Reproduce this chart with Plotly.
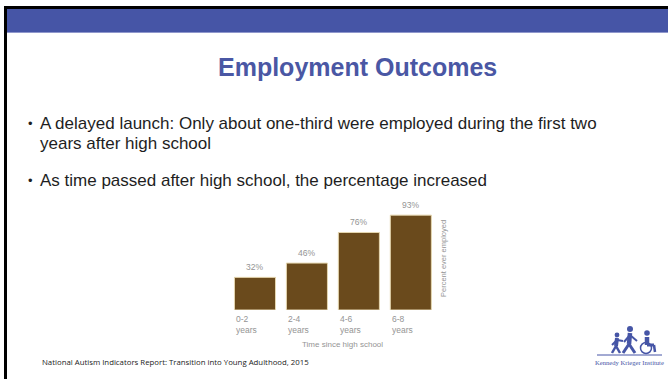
import plotly.graph_objects as go

W, H = 668, 379

# chart data
periods = ["0-2", "2-4", "4-6", "6-8"]
employed_pct = [32, 46, 76, 93]
value_labels = ["32%", "46%", "76%", "93%"]

title_text = "Employment Outcomes"
bullets = [
    "A delayed launch: Only about one-third were employed during the first two",
    "years after high school",
    "As time passed after high school, the percentage increased",
]
source_text = "National Autism Indicators Report: Transition into Young Adulthood, 2015"

BLUE = "#4655A6"
BAR = "#6A4A1C"
GREY = "#949494"
SANS = "Liberation Sans, Arial"


def px(x):
    return x / W


def py(y):
    return 1 - y / H


def note(x, y, text, size, color, family=SANS, xanchor="center", **kw):
    return dict(x=px(x), y=py(y), xref="paper", yref="paper", text=text,
                showarrow=False, xanchor=xanchor, yanchor="middle",
                font=dict(family=family, size=size, color=color), **kw)


fig = go.Figure()

fig.add_trace(go.Bar(
    x=list(range(len(periods))),
    y=employed_pct,
    marker=dict(color=BAR, line=dict(color="#E6D7B0", width=1)),
    width=0.79,
    hoverinfo="skip",
))

annotations = []

# value labels above the bars
for i, (v, t) in enumerate(zip(employed_pct, value_labels)):
    annotations.append(dict(
        x=i, y=v, xref="x", yref="y", text=t, showarrow=False,
        xanchor="center", yanchor="bottom", yshift=3,
        font=dict(family=SANS, size=8.5, color=GREY),
    ))

# category labels, left aligned under each bar
for i, p in enumerate(periods):
    annotations.append(dict(
        x=i - 0.4, y=0, xref="x", yref="y", text=p + "<br>years",
        showarrow=False, xanchor="left", yanchor="top", align="left", yshift=-2,
        font=dict(family=SANS, size=8.5, color=GREY),
    ))

annotations += [
    note(342, 344, "Time since high school", 8, GREY),
    note(443, 259, "Percent ever employed", 7.5, GREY, textangle=-90),
    note(357, 67, "<b>" + title_text + "</b>", 25, "#4A57A4"),
    note(38, 123, bullets[0], 17, "#1E1E1E", xanchor="left"),
    note(38, 143, bullets[1], 17, "#1E1E1E", xanchor="left"),
    note(38, 181, bullets[2], 17, "#1E1E1E", xanchor="left"),
    note(30, 123, "•", 13, "#1E1E1E"),
    note(30, 181, "•", 13, "#1E1E1E"),
    note(40, 362, source_text, 7.8, "#222",
         family="Liberation Sans Narrow, Open Sans, sans-serif", xanchor="left"),
    note(629.5, 362, "Kennedy Krieger Institute", 6.6, BLUE,
         family="Liberation Serif, DejaVu Serif, serif"),
]

shapes = [
    # slide frame: top rule, header band, left rule
    dict(type="rect", xref="paper", yref="paper", x0=px(4), x1=1, y0=py(9), y1=py(6),
         fillcolor="#000", line_width=0, layer="below"),
    dict(type="rect", xref="paper", yref="paper", x0=px(4), x1=1, y0=py(32), y1=py(9),
         fillcolor=BLUE, line_width=0, layer="below"),
    dict(type="rect", xref="paper", yref="paper", x0=px(7), x1=1, y0=py(33), y1=py(32),
         fillcolor="#8F97CC", line_width=0, layer="below"),
    dict(type="rect", xref="paper", yref="paper", x0=px(4), x1=px(7), y0=0, y1=py(6),
         fillcolor="#000", line_width=0, layer="below"),
    # logo underline
    dict(type="line", xref="paper", yref="paper", x0=px(597), x1=px(662), y0=py(355), y1=py(355),
         line=dict(color=BLUE, width=1)),
]


# simple logo figures: child, walking adult, wheelchair user
def circle(cx, cy, r, fill=BLUE, line=None):
    return dict(type="circle", xref="paper", yref="paper",
                x0=px(cx - r), x1=px(cx + r), y0=py(cy + r), y1=py(cy - r),
                fillcolor=fill, line=dict(color=line or BLUE, width=1.5 if line else 0))


def seg(x0, y0, x1, y1, w=2.5):
    return dict(type="line", xref="paper", yref="paper",
                x0=px(x0), y0=py(y0), x1=px(x1), y1=py(y1),
                line=dict(color=BLUE, width=w))


shapes += [
    # child
    circle(617, 335, 2.4),
    seg(617, 338, 616, 346, 4), seg(616, 346, 612, 353, 2.5), seg(616, 346, 620, 353, 2.5),
    seg(617, 340, 612, 345, 2), seg(617, 340, 623, 341, 2),
    # adult
    circle(630, 329, 3),
    seg(630, 333, 629, 344, 4.5), seg(629, 344, 623, 353, 3), seg(629, 344, 635, 353, 3),
    seg(630, 335, 624, 342, 2), seg(630, 335, 637, 341, 2),
    # wheelchair user
    circle(647, 333, 2.8),
    seg(647, 337, 647, 345, 4.5), seg(647, 345, 654, 345, 3), seg(654, 345, 655, 352, 2.5),
    circle(646, 348, 5.5, fill="rgba(0,0,0,0)", line=BLUE),
]

fig.update_layout(
    width=W, height=H,
    margin=dict(l=0, r=0, t=0, b=0),
    paper_bgcolor="white", plot_bgcolor="rgba(0,0,0,0)",
    showlegend=False,
    xaxis=dict(domain=[px(229), px(436.8)], range=[-0.5, 3.5], visible=False, fixedrange=True),
    yaxis=dict(domain=[py(310), py(208)], range=[0, 100], visible=False, fixedrange=True),
    annotations=annotations,
    shapes=shapes,
)

fig.write_html("out.html")
